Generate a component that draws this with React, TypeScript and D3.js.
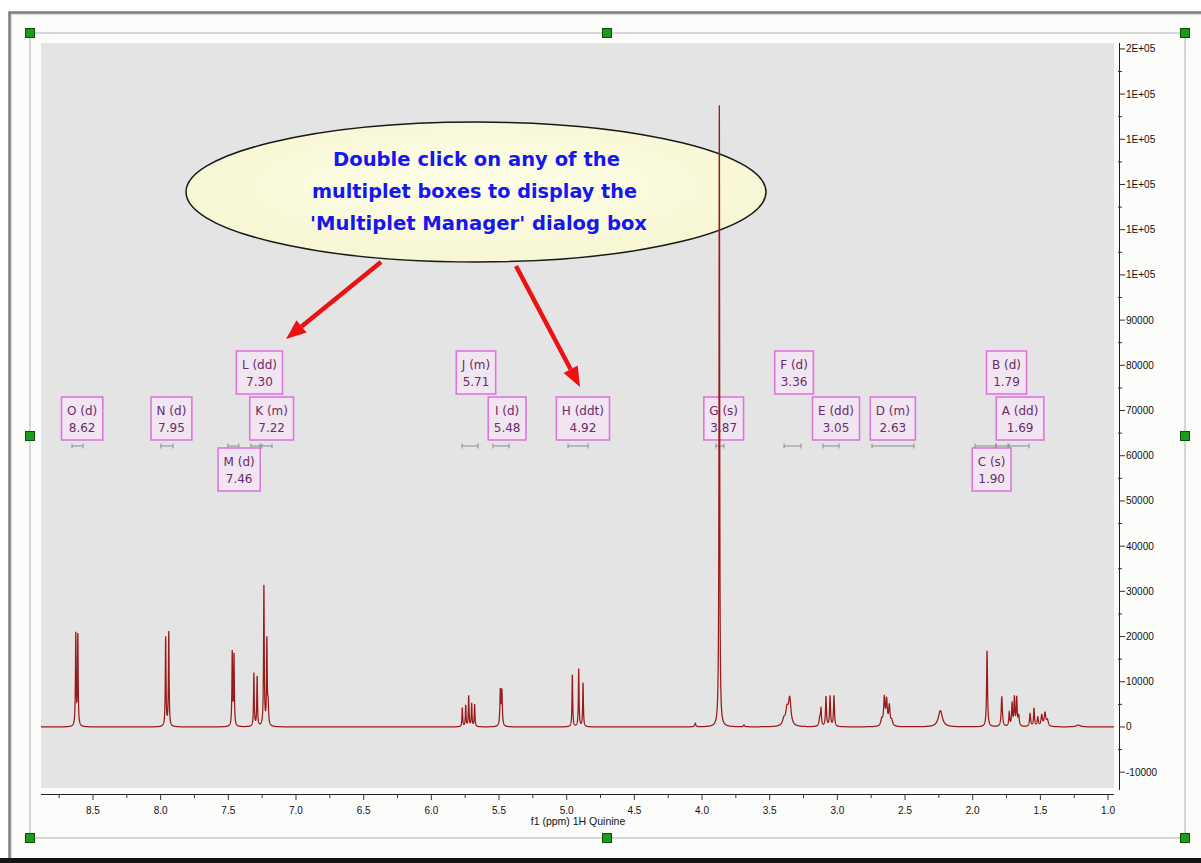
import React, { useMemo } from "react";
import * as d3 from "d3";

// ---------- data ----------
// x ticks (ppm)
const xMajorTicks = [8.5, 8.0, 7.5, 7.0, 6.5, 6.0, 5.5, 5.0, 4.5, 4.0, 3.5, 3.0, 2.5, 2.0, 1.5, 1.0];
const xMinorTicks = [8.75, 8.25, 7.75, 7.25, 6.75, 6.25, 5.75, 5.25, 4.75, 4.25, 3.75, 3.25, 2.75, 2.25, 1.75, 1.25];
// y ticks (intensity)
const yMajorTicks = [-10000, 0, 10000, 20000, 30000, 40000, 50000, 60000, 70000, 80000, 90000, 100000, 110000, 120000, 130000, 140000, 150000];
const yMinorTicks = [-5000, 5000, 15000, 25000, 35000, 45000, 55000, 65000, 75000, 85000, 95000, 105000, 115000, 125000, 135000, 145000];

// spectrum peak list: [ppm, intensity, half width (ppm)]
const peaks: [number, number, number][] = [
  [8.627, 20300, 0.003], [8.612, 20000, 0.003],
  [7.963, 19700, 0.003], [7.940, 20900, 0.003],
  [7.471, 16200, 0.003], [7.458, 15600, 0.003],
  [7.311, 11800, 0.003], [7.287, 11000, 0.003],
  [7.237, 31000, 0.003], [7.215, 18700, 0.003], [7.206, 4500, 0.004],
  [5.771, 4200, 0.003], [5.746, 4700, 0.003], [5.724, 6800, 0.003], [5.702, 5100, 0.003], [5.680, 4900, 0.003],
  [5.490, 7700, 0.004], [5.479, 7600, 0.004],
  [4.958, 11500, 0.003], [4.911, 12800, 0.003], [4.879, 9700, 0.003],
  [4.050, 800, 0.005], [3.690, 400, 0.005],
  [3.872, 137500, 0.0028],
  [3.352, 5900, 0.011], [3.372, 3300, 0.011], [3.395, 1400, 0.012],
  [3.130, 1800, 0.006], [3.121, 3600, 0.004], [3.084, 6600, 0.004], [3.054, 6700, 0.004], [3.025, 6800, 0.004],
  [2.672, 1400, 0.008], [2.653, 6000, 0.006], [2.636, 5400, 0.006], [2.616, 4300, 0.006], [2.598, 1200, 0.008],
  [2.239, 3600, 0.018],
  [1.894, 16800, 0.004],
  [1.785, 6700, 0.005],
  [1.730, 3000, 0.004], [1.709, 5000, 0.004], [1.692, 6300, 0.004], [1.675, 6200, 0.004], [1.660, 2200, 0.005],
  [1.576, 2800, 0.005], [1.547, 4000, 0.004], [1.519, 2000, 0.005], [1.490, 2400, 0.006], [1.466, 2900, 0.007], [1.448, 1300, 0.008],
  [1.220, 400, 0.02],
];

// multiplets
const multipletLetters = ["A", "B", "C", "D", "E", "F", "G", "H", "I", "J", "K", "L", "M", "N", "O"];
const multipletKinds = ["dd", "d", "s", "m", "dd", "d", "s", "ddt", "d", "m", "m", "dd", "d", "d", "d"];
const multipletShifts = [1.69, 1.79, 1.90, 2.63, 3.05, 3.36, 3.87, 4.92, 5.48, 5.71, 7.22, 7.30, 7.46, 7.95, 8.62];
const multipletFrom = [1.739, 1.828, 1.983, 2.744, 3.106, 3.394, 3.897, 4.990, 5.544, 5.773, 7.266, 7.333, 7.503, 7.998, 8.655];
const multipletTo = [1.584, 1.732, 1.828, 2.434, 2.988, 3.269, 3.838, 4.842, 5.426, 5.655, 7.177, 7.252, 7.422, 7.909, 8.574];

// label placement (ppm of box centre, row index)
const labelCentres = [1.65, 1.75, 1.86, 2.59, 3.01, 3.32, 3.84, 4.88, 5.44, 5.67, 7.18, 7.27, 7.42, 7.92, 8.58];
const labelRows = [1, 0, 2, 1, 1, 0, 1, 1, 1, 0, 1, 0, 2, 1, 1];

const calloutLines = ["Double click on any of the", "multiplet boxes to display the", "'Multiplet Manager' dialog box"];
const xAxisTitle = "f1 (ppm) 1H Quinine";

// ---------- layout ----------
const W = 1201, H = 863;
const plot = { left: 41, right: 1114, top: 43, bottom: 788 };
const rowTops = [351, 397, 448];
const boxH = 43;
const bracketY = 446;

function fmtY(v: number) {
  if (Math.abs(v) >= 100000) return v.toExponential(0).replace("e+", "E+0").replace("e-", "E-0");
  return String(v);
}

export default function App() {
  const x = d3.scaleLinear().domain([8.884, 0.956]).range([plot.left, plot.right]);
  const y = d3.scaleLinear().domain([-13500, 151300]).range([plot.bottom, plot.top]);

  const pathD = useMemo(() => {
    const grid = d3.range(8.884, 0.956, -0.0005);
    const pts: [number, number][] = grid.map((p) => [
      p,
      d3.sum(peaks, ([c, h, w]) => h / (1 + ((p - c) / w) ** 2)),
    ]);
    const line = d3.line<[number, number]>().x((d) => x(d[0])).y((d) => y(d[1]));
    return line(pts) || "";
  }, []);

  const widths = useMemo(() => {
    const ctx = document.createElement("canvas").getContext("2d")!;
    ctx.font = "12px 'DejaVu Sans'";
    return multipletLetters.map((l, i) => {
      const a = ctx.measureText(`${l} (${multipletKinds[i]})`).width;
      const b = ctx.measureText(multipletShifts[i].toFixed(2)).width;
      return Math.max(a, b) + 11;
    });
  }, []);

  const handles: [number, number][] = [
    [30, 33], [607, 33], [1185, 33], [30, 436], [1185, 436], [30, 838], [607, 838], [1185, 838],
  ];

  const axisFont = "'Liberation Sans', Arial, sans-serif";

  // arrows (annotation)
  const arrows = [
    { x1: 381, y1: 262, x2: 286, y2: 339 },
    { x1: 516, y1: 266, x2: 580, y2: 387 },
  ];

  return (
    <div style={{ position: "absolute", left: 0, top: 0 }}>
      <svg width={W} height={H} style={{ display: "block" }}>
        <defs>
          <clipPath id="plotclip">
            <rect x={plot.left} y={plot.top} width={plot.right - plot.left} height={plot.bottom - plot.top} />
          </clipPath>
          <radialGradient id="callfill" cx="50%" cy="45%" r="60%">
            <stop offset="0%" stopColor="#fefee8" />
            <stop offset="100%" stopColor="#f6f6d2" />
          </radialGradient>
        </defs>
        <rect x={0} y={0} width={W} height={H} fill="#ffffff" />
        {/* window frame */}
        <rect x={9} y={13} width={W - 9} height={845} fill="#fcfcfa" />
        <path d={`M9.5,858 V12.5 H${W}`} fill="none" stroke="#7d7d78" strokeWidth={2.5} />
        <path d={`M11.5,858 V14.5 H${W}`} fill="none" stroke="#d8d8d2" strokeWidth={1} />
        <rect x={0} y={858} width={W} height={5} fill="#151515" />
        {/* selection rectangle */}
        <rect x={30} y={33} width={1155} height={805} fill="none" stroke="#d6d6d6" strokeWidth={2} />
        {/* plot area */}
        <rect x={plot.left} y={plot.top} width={plot.right - plot.left} height={plot.bottom - plot.top} fill="#e4e4e4" />

        {/* multiplet brackets */}
        {multipletLetters.map((l, i) => {
          const a = x(multipletFrom[i]), b = x(multipletTo[i]);
          return (
            <g key={"br" + l} stroke="#8c8c8c" strokeWidth={1}>
              <line x1={a} x2={b} y1={bracketY} y2={bracketY} />
              <line x1={a} x2={a} y1={bracketY - 2.5} y2={bracketY + 2.5} />
              <line x1={b} x2={b} y1={bracketY - 2.5} y2={bracketY + 2.5} />
            </g>
          );
        })}

        {/* multiplet boxes */}
        {multipletLetters.map((l, i) => {
          const cx = x(labelCentres[i]);
          const w = widths[i];
          const top = rowTops[labelRows[i]];
          return (
            <g key={"bx" + l}>
              <rect x={cx - w / 2} y={top} width={w} height={boxH} fill="#f1e5f1" stroke="#dc78dc" strokeWidth={1.6} />
              <text x={cx} y={top + 17.5} textAnchor="middle" fontFamily="'DejaVu Sans', sans-serif" fontSize={12} fill="#6a2c6a">
                {`${l} (${multipletKinds[i]})`}
              </text>
              <text x={cx} y={top + 35} textAnchor="middle" fontFamily="'DejaVu Sans', sans-serif" fontSize={12} fill="#6a2c6a">
                {multipletShifts[i].toFixed(2)}
              </text>
            </g>
          );
        })}

        {/* callout */}
        <ellipse cx={476} cy={192} rx={290} ry={70} fill="url(#callfill)" stroke="#1a1a1a" strokeWidth={1.5} />
        {calloutLines.map((t, i) => (
          <text
            key={t}
            x={[476.5, 474.5, 478.5][i]}
            y={166 + i * 32}
            textAnchor="middle"
            fontFamily="'Comic Sans MS', 'DejaVu Sans', sans-serif"
            fontWeight="bold"
            fontSize={19}
            fill="#1616ee"
            textLength={[287, 325, 337][i]}
            lengthAdjust="spacingAndGlyphs"
          >
            {t}
          </text>
        ))}

        {/* spectrum */}
        <path d={pathD} fill="none" stroke="#9a1a1a" strokeWidth={1.25} clipPath="url(#plotclip)" />

        {/* arrows */}
        {arrows.map((a, i) => {
          const ang = Math.atan2(a.y2 - a.y1, a.x2 - a.x1);
          const L = 20, hw = 8;
          const bx = a.x2 - L * Math.cos(ang), by = a.y2 - L * Math.sin(ang);
          const px = -Math.sin(ang) * hw, py = Math.cos(ang) * hw;
          return (
            <g key={"ar" + i}>
              <line x1={a.x1} y1={a.y1} x2={bx} y2={by} stroke="#ec1212" strokeWidth={4.5} />
              <polygon points={`${a.x2},${a.y2} ${bx + px},${by + py} ${bx - px},${by - py}`} fill="#ec1212" />
            </g>
          );
        })}

        {/* y axis (right) */}
        <line x1={1119.5} x2={1119.5} y1={plot.top} y2={790} stroke="#222" strokeWidth={1} />
        {yMinorTicks.map((v) => (
          <line key={"ym" + v} x1={1118} x2={1122} y1={y(v)} y2={y(v)} stroke="#333" strokeWidth={1} />
        ))}
        {yMajorTicks.map((v) => (
          <g key={"yM" + v}>
            <line x1={1119} x2={1125} y1={y(v)} y2={y(v)} stroke="#333" strokeWidth={1} />
            <text x={1126} y={y(v)} dy="0.35em" fontFamily={axisFont} fontSize={10} fill="#111">
              {fmtY(v)}
            </text>
          </g>
        ))}

        {/* x axis */}
        <line x1={plot.left} x2={plot.right} y1={794.5} y2={794.5} stroke="#222" strokeWidth={1} />
        {xMinorTicks.map((v) => (
          <line key={"xm" + v} x1={x(v)} x2={x(v)} y1={794} y2={798} stroke="#333" strokeWidth={1} />
        ))}
        {xMajorTicks.map((v) => (
          <g key={"xM" + v}>
            <line x1={x(v)} x2={x(v)} y1={794} y2={800} stroke="#333" strokeWidth={1} />
            <text x={x(v)} y={814} textAnchor="middle" fontFamily={axisFont} fontSize={10} fill="#111">
              {v.toFixed(1)}
            </text>
          </g>
        ))}
        <text x={578} y={825} textAnchor="middle" fontFamily={axisFont} fontSize={10.5} fill="#111">
          {xAxisTitle}
        </text>

        {/* selection handles */}
        {handles.map(([hx, hy], i) => (
          <rect key={"h" + i} x={hx - 4.5} y={hy - 4.5} width={9} height={9} fill="#1c9a1c" stroke="#0c4d0c" strokeWidth={1} />
        ))}
      </svg>
    </div>
  );
}
